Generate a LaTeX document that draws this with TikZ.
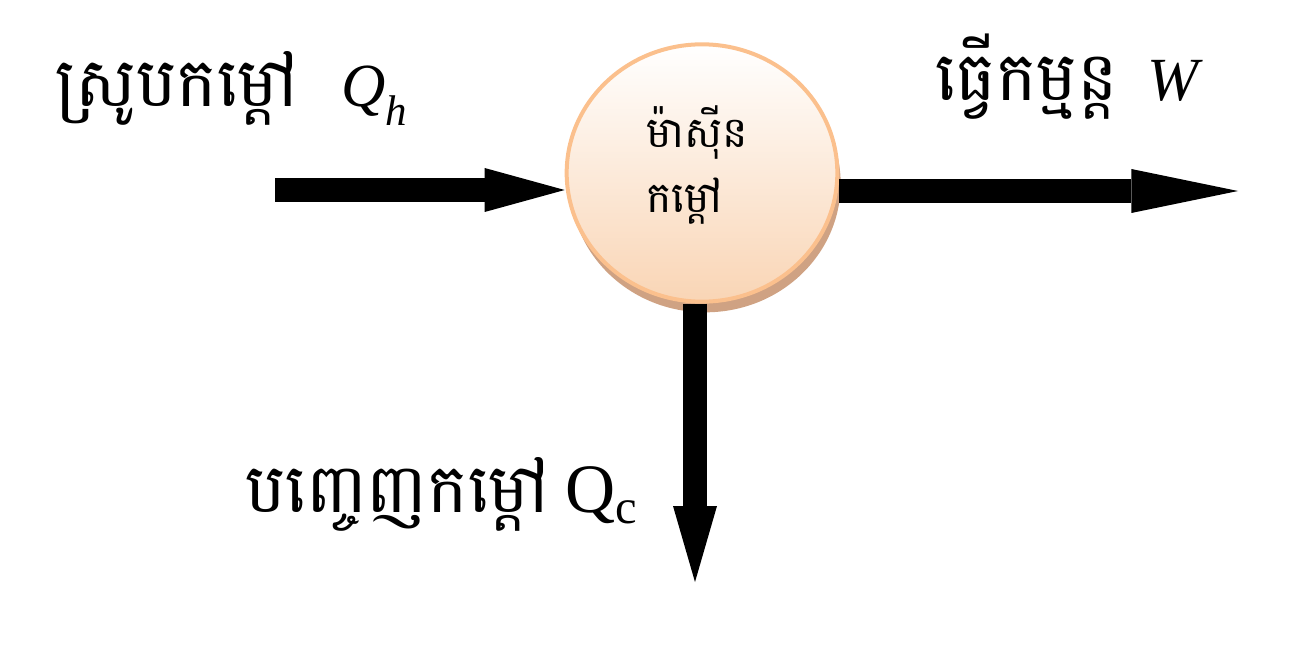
\documentclass[tikz,border=0pt]{standalone}
\usepackage{fontspec}
\setmainfont{Liberation Serif}
\newfontfamily\khmerfont[Script=Khmer]{Battambang}
\usetikzlibrary{arrows.meta, shapes.geometric, shadows, positioning}

\definecolor{peachedge}{HTML}{FBC08D}
\definecolor{peachfill}{HTML}{F9D5B5}
\definecolor{peachshadow}{HTML}{CFA283}

\newcommand{\khbig}[1]{{\khmerfont\fontsize{51pt}{55pt}\selectfont #1}}

\tikzset{
  flow/.style={line width=18pt, -{Triangle[length=#1, width=33pt, line width=0pt]}},
  khlabel/.style={anchor=base west, inner sep=0pt, font=\fontsize{46pt}{50pt}\selectfont},
  engine/.style={ellipse, minimum width=203pt, minimum height=193pt, inner sep=0pt,
    draw=peachedge, line width=3pt, top color=white, bottom color=peachfill,
    drop shadow={shadow xshift=2.5pt, shadow yshift=-8pt, fill=peachshadow, opacity=1}},
  enginetext/.style={align=left, inner sep=0pt, font=\fontsize{32pt}{49pt}\selectfont\khmerfont}
}

\begin{document}
\begin{tikzpicture}[x=0.75pt, y=-0.75pt]
  \useasboundingbox (0,0) rectangle (1293,652);
  % heat engine
  \node[engine] (engine) at (702,173) {};
  \node[enginetext] (enginename) at (697,165) {ម៉ាស៊ីន\\កម្ដៅ};
  \coordinate (qhin) at (275,190);
  \coordinate (wout) at (1238,191);
  \coordinate (qcout) at (695,582);
  \draw[flow=60pt] (qhin) -- (qhin -| engine.west);
  \draw[flow=80pt] (wout -| engine.east) -- (wout);
  \draw[flow=57pt] (engine.south -| qcout) -- (qcout);
  % labels
  \node[khlabel] (qhlabel) at (55,107) {\khbig{ស្រូបកម្ដៅ}\hspace{32pt}\textit{Q\textsubscript{h}}};
  \node[khlabel] (wlabel) at (935,101) {\khbig{ធ្វើកម្មន្ត}\hspace{22pt}\textit{W}};
  \node[khlabel] (qclabel) at (245,512) {\khbig{បញ្ចេញកម្ដៅ}\hspace{12pt}\fontsize{52pt}{55pt}\selectfont Q\textsubscript{c}};
\end{tikzpicture}
\end{document}
